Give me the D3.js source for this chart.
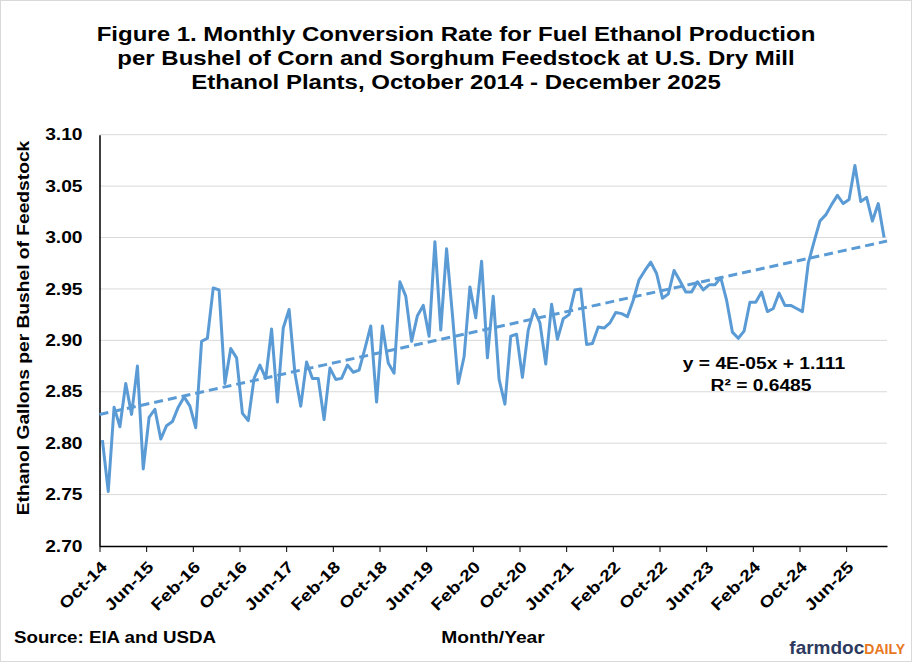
<!DOCTYPE html>
<html>
<head>
<meta charset="utf-8">
<script src="https://cdn.jsdelivr.net/npm/d3@7"></script>
<style>
  body { margin: 0; background: #fff; }
  svg text { font-family: "Liberation Sans", Arial, sans-serif; }
</style>
</head>
<body>
<svg class="convChart"></svg>
<script>
// monthly conversion rate, Oct-14 .. Dec-25 (gallons per bushel)
const rates = [
  2.803, 2.753, 2.835, 2.816, 2.858, 2.828, 2.875, 2.775, 2.825, 2.833,
  2.804, 2.817, 2.821, 2.835, 2.845, 2.836, 2.815, 2.899, 2.902, 2.951,
  2.949, 2.858, 2.892, 2.883, 2.829, 2.822, 2.863, 2.876, 2.863, 2.911,
  2.840, 2.912, 2.930, 2.868, 2.836, 2.879, 2.863, 2.863, 2.823, 2.873,
  2.862, 2.863, 2.876, 2.869, 2.871, 2.892, 2.914, 2.840, 2.914, 2.878,
  2.868, 2.957, 2.943, 2.899, 2.924, 2.934, 2.904, 2.996, 2.910, 2.989,
  2.925, 2.858, 2.884, 2.952, 2.922, 2.977, 2.883, 2.943, 2.862, 2.838,
  2.904, 2.906, 2.864, 2.910, 2.930, 2.917, 2.877, 2.935, 2.901, 2.921,
  2.925, 2.949, 2.950, 2.896, 2.897, 2.913, 2.912, 2.917, 2.927, 2.926,
  2.923, 2.939, 2.959, 2.968, 2.976, 2.965, 2.941, 2.945, 2.968, 2.958,
  2.947, 2.947, 2.957, 2.949, 2.954, 2.954, 2.961, 2.939, 2.908, 2.902,
  2.909, 2.937, 2.937, 2.947, 2.928, 2.931, 2.946, 2.934, 2.934, 2.931,
  2.928, 2.975, 2.996, 3.016, 3.022, 3.032, 3.041, 3.033, 3.037, 3.070,
  3.035, 3.039, 3.016, 3.033, 3.000
]
// x axis labels, one every 8 months
const tickLabels = ["Oct-14", "Jun-15", "Feb-16", "Oct-16", "Jun-17", "Feb-18",
  "Oct-18", "Jun-19", "Feb-20", "Oct-20", "Jun-21", "Feb-22", "Oct-22",
  "Jun-23", "Feb-24", "Oct-24", "Jun-25"]
const yTicks = [2.70, 2.75, 2.80, 2.85, 2.90, 2.95, 3.00, 3.05, 3.10]
const titleLines = [
  "Figure 1. Monthly Conversion Rate for Fuel Ethanol Production",
  "per Bushel of Corn and Sorghum Feedstock at U.S. Dry Mill",
  "Ethanol Plants, October 2014 - December 2025"
]
const eqnText = "y = 4E-05x + 1.111"
const r2Text = "R\u00B2 = 0.6485"

const W = 912, H = 662
const blue = "#5B9BD5"
const plot = { left: 99.5, right: 887, top: 134.7, bottom: 546 }
const WIDEN = 1.2   // the original text renders wider than Liberation Sans

// stretch text horizontally so it takes the width of the original
function widen(sel, f) {
    sel.each(function() {
        const len = this.getComputedTextLength()
        d3.select(this)
          .attr("textLength", len * f)
          .attr("lengthAdjust", "spacingAndGlyphs")
    })
    return sel
}

const svg = d3.select("svg.convChart")
  .attr("width", W)
  .attr("height", H)
  .attr("viewBox", [0, 0, W, H])

// outer frame
svg.append("rect")
  .attr("x", 0.5).attr("y", 0.5)
  .attr("width", W - 1).attr("height", H - 1)
  .attr("fill", "#fff")
  .attr("stroke", "#d9d9d9")

const x = d3.scaleLinear().domain([0, rates.length]).range([plot.left, plot.right])
const y = d3.scaleLinear().domain([2.70, 3.10]).range([plot.bottom, plot.top])

// title
svg.append("g")
  .selectAll("text")
  .data(titleLines)
  .join("text")
  .attr("x", 456)
  .attr("y", (d, i) => 41 + i * 24)
  .attr("text-anchor", "middle")
  .attr("font-size", 20)
  .attr("font-weight", "bold")
  .text(d => d)
  .call(widen, WIDEN)

// gridlines
svg.append("g")
  .selectAll("line")
  .data(yTicks.slice(1))
  .join("line")
  .attr("x1", plot.left).attr("x2", plot.right)
  .attr("y1", d => y(d)).attr("y2", d => y(d))
  .attr("stroke", "#d9d9d9")
  .attr("stroke-width", 1)

// y axis
const yAxis = svg.append("g")
  .attr("transform", `translate(${plot.left},0)`)
  .call(d3.axisLeft(y).tickValues(yTicks).tickFormat(d3.format(".2f")).tickSize(0).tickPadding(17))
yAxis.select(".domain").attr("stroke", "#000").attr("stroke-width", 1.5)
yAxis.selectAll("text")
  .attr("font-size", 16)
  .attr("font-weight", "bold")
  .attr("fill", "#000")
  .style("font-family", "'Liberation Sans', Arial, sans-serif")
  .call(widen, WIDEN)

// x axis: category boundaries every 8 months
const tickIdx = tickLabels.map((d, i) => i * 8)
const xAxis = svg.append("g")
  .attr("transform", `translate(0,${plot.bottom})`)
  .call(d3.axisBottom(x).tickValues(tickIdx).tickFormat((d, i) => tickLabels[i]).tickSize(6).tickSizeOuter(0))
xAxis.select(".domain").attr("stroke", "#000").attr("stroke-width", 1.5)
xAxis.selectAll(".tick line").attr("stroke", "#000").attr("stroke-width", 1)
xAxis.selectAll("text")
  .attr("font-size", 16)
  .attr("font-weight", "bold")
  .attr("fill", "#000")
  .attr("text-anchor", "end")
  .attr("dy", null)
  .attr("y", 0)
  .attr("transform", "translate(8,22) rotate(-45)")
  .style("font-family", "'Liberation Sans', Arial, sans-serif")
  .call(widen, WIDEN)

// trend line (least squares on month index)
const n = rates.length
const mx = d3.mean(rates, (d, i) => i)
const my = d3.mean(rates)
const slope = d3.sum(rates, (d, i) => (i - mx) * (d - my)) / d3.sum(rates, (d, i) => (i - mx) * (i - mx))
const icpt = my - slope * mx
svg.append("line")
  .attr("x1", x(0)).attr("y1", y(icpt - slope * 0.5))
  .attr("x2", x(n)).attr("y2", y(icpt + slope * (n - 0.5)))
  .attr("stroke", blue)
  .attr("stroke-width", 3)
  .attr("stroke-dasharray", "9,5")

// series
const line = d3.line()
  .x((d, i) => x(i + 0.5))
  .y(d => y(d))
svg.append("path")
  .datum(rates)
  .attr("fill", "none")
  .attr("stroke", blue)
  .attr("stroke-width", 3)
  .attr("stroke-linejoin", "round")
  .attr("d", line)

// equation label
svg.append("text")
  .attr("x", 764).attr("y", 369)
  .attr("text-anchor", "middle")
  .attr("font-size", 16).attr("font-weight", "bold")
  .text(eqnText)
  .call(widen, WIDEN)
svg.append("text")
  .attr("x", 761).attr("y", 391)
  .attr("text-anchor", "middle")
  .attr("font-size", 16).attr("font-weight", "bold")
  .text(r2Text)
  .call(widen, WIDEN)

// y title
svg.append("text")
  .attr("transform", `translate(29,328) rotate(-90)`)
  .attr("text-anchor", "middle")
  .attr("font-size", 16).attr("font-weight", "bold")
  .text("Ethanol Gallons per Bushel of Feedstock")
  .call(widen, WIDEN)

// x title and source
svg.append("text")
  .attr("x", 493).attr("y", 643)
  .attr("text-anchor", "middle")
  .attr("font-size", 16).attr("font-weight", "bold")
  .text("Month/Year")
  .call(widen, WIDEN)
svg.append("text")
  .attr("x", 14).attr("y", 643)
  .attr("font-size", 16).attr("font-weight", "bold")
  .text("Source: EIA and USDA")
  .call(widen, 1.17)

// logo
const logo = svg.append("text")
  .attr("x", 905).attr("y", 654)
  .attr("text-anchor", "end")
  .attr("font-weight", "bold")
logo.append("tspan").attr("fill", "#2d3a5e").attr("font-size", 19).text("farmdoc")
logo.append("tspan").attr("fill", "#e87722").attr("font-size", 14).text("DAILY")
</script>
</body>
</html>
